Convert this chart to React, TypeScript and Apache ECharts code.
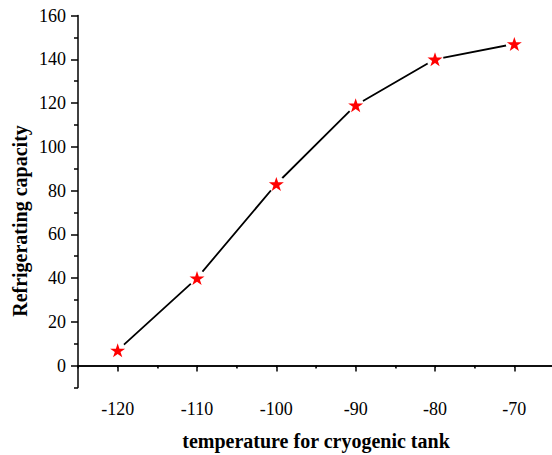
import React, { useEffect, useRef } from "react";
import * as echarts from "echarts";

const temperatures = [-120, -110, -100, -90, -80, -70];
const capacities = [7, 40, 83, 119, 140, 147];
const xMajorTicks = [-120, -110, -100, -90, -80, -70];
const xMinorTicks = [-125, -115, -105, -95, -85, -75, -65];
const xTopTicks = [-125, -120, -115, -110, -105, -100, -95, -90, -85, -80, -75, -70, -65];
const yMajorTicks = [0, 20, 40, 60, 80, 100, 120, 140, 160];
const yMinorTicks = [-10, 10, 30, 50, 70, 90, 110, 130, 150];
const xTitle = "temperature for cryogenic tank";
const yTitle = "Refrigerating capacity";

const FONT = "Liberation Serif";
const STAR =
  "path://M50,0 L61.23,34.55 L97.55,34.55 L68.16,55.9 L79.39,90.45 L50,69.1 L20.61,90.45 L31.84,55.9 L2.45,34.55 L38.77,34.55 Z";

export default function App() {
  const ref = useRef<HTMLDivElement>(null);
  useEffect(() => {
    if (!ref.current) return;
    const chart = echarts.init(ref.current, undefined, { renderer: "svg" });
    const points = temperatures.map((t, i) => [t, capacities[i]]);
    const axisLine = { show: true, lineStyle: { color: "#000", width: 1.5 } };
    const xBase = { type: "value", min: -125, max: -65, splitLine: { show: false } };
    const yBase = { type: "value", min: -10, max: 160, splitLine: { show: false } };
    chart.setOption({
      animation: false,
      backgroundColor: "#fff",
      grid: {
        left: 78,
        right: -2,
        top: 15.5,
        bottom: 67.5,
        containLabel: false,
        outerBoundsMode: "none",
      },
      xAxis: [
        {
          ...xBase,
          position: "bottom",
          axisLine,
          axisTick: { show: true, inside: false, length: 6, customValues: xMajorTicks, lineStyle: { color: "#000", width: 1.5 } },
          axisLabel: {
            show: true,
            customValues: xMajorTicks,
            margin: 12,
            color: "#000",
            fontFamily: FONT,
            fontSize: 18,
          },
        },
        {
          ...xBase,
          position: "bottom",
          axisLine: { show: false },
          axisTick: { show: true, inside: false, length: 3, customValues: xMinorTicks, lineStyle: { color: "#000", width: 1.5 } },
          axisLabel: { show: false },
        },
        {
          ...xBase,
          position: "top",
          axisLine,
          axisTick: { show: true, inside: true, length: 2, customValues: xTopTicks, lineStyle: { color: "#000", width: 1 } },
          axisLabel: { show: false },
        },
      ],
      yAxis: [
        {
          ...yBase,
          position: "left",
          axisLine,
          axisTick: { show: true, inside: false, length: 7, customValues: yMajorTicks, lineStyle: { color: "#000", width: 1.5 } },
          axisLabel: {
            show: true,
            customValues: yMajorTicks,
            margin: 12,
            color: "#000",
            fontFamily: FONT,
            fontSize: 18,
          },
        },
        {
          ...yBase,
          position: "left",
          axisLine: { show: false },
          axisTick: { show: true, inside: false, length: 4, customValues: yMinorTicks, lineStyle: { color: "#000", width: 1.5 } },
          axisLabel: { show: false },
        },
        {
          ...yBase,
          position: "right",
          axisLine,
          axisTick: { show: false },
          axisLabel: { show: false },
        },
      ],
      series: [
        {
          type: "line",
          data: points,
          showSymbol: false,
          symbol: "none",
          lineStyle: { color: "#000", width: 1.8 },
          z: 2,
        },
        {
          type: "scatter",
          data: points,
          symbol: "circle",
          symbolSize: 17,
          itemStyle: { color: "#fff", opacity: 1 },
          z: 3,
        },
        {
          type: "scatter",
          data: points,
          symbol: STAR,
          symbolSize: [15, 14],
          itemStyle: { color: "#ff0000", opacity: 1 },
          z: 4,
        },
      ],
      graphic: [
        {
          type: "text",
          x: 20,
          y: 221,
          rotation: Math.PI / 2,
          style: {
            text: yTitle,
            font: `bold 20px ${FONT}`,
            fill: "#000",
            align: "center",
            verticalAlign: "middle",
          },
        },
        {
          type: "text",
          x: 316,
          y: 441,
          style: {
            text: xTitle,
            font: `bold 20px ${FONT}`,
            fill: "#000",
            align: "center",
            verticalAlign: "middle",
          },
        },
      ],
    });
    return () => chart.dispose();
  }, []);
  return (
    <div
      ref={ref}
      style={{ position: "fixed", left: 0, top: 0, width: 552, height: 455, background: "#fff" }}
    />
  );
}
